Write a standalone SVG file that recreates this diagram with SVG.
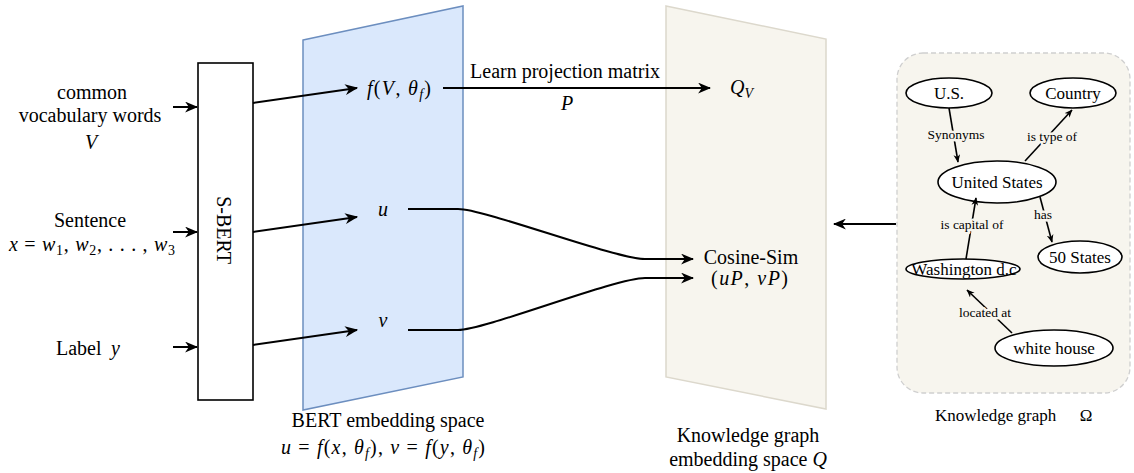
<svg xmlns="http://www.w3.org/2000/svg" width="1134" height="473" viewBox="0 0 1134 473" font-family="'Liberation Serif', 'DejaVu Serif', serif">
  <defs>
    <marker id="arrow" viewBox="0 0 12 10" refX="11" refY="5" markerWidth="13" markerHeight="11" markerUnits="userSpaceOnUse" orient="auto">
      <path d="M0,0 L12,5 L0,10 L3.5,5 Z" fill="#000"/>
    </marker>
    <marker id="arrow-sm" viewBox="0 0 12 10" refX="11" refY="5" markerWidth="8" markerHeight="7" markerUnits="userSpaceOnUse" orient="auto">
      <path d="M0,0 L12,5 L0,10 L3.5,5 Z" fill="#000"/>
    </marker>
  </defs>
  <style>
    text { font-family: 'Liberation Serif', 'DejaVu Serif', serif; fill: #000; }
    .t { font-size: 20px; }
    .m { font-size: 20px; }
    .i { font-style: italic; }
    .sub { font-size: 14px; font-style: italic; }
    .subn { font-size: 14px; }
    .node { font-size: 17px; }
    .lbl { font-size: 13.5px; stroke: #f7f5ee; stroke-width: 5px; paint-order: stroke; stroke-linejoin: round; }
    .edge { fill: none; stroke: #000; stroke-width: 2; }
    .gedge { fill: none; stroke: #000; stroke-width: 1.6; }
    .ell { fill: #fff; stroke: #000; stroke-width: 1.6; }
  </style>

  <!-- embedding planes -->
  <g id="bert-space">
    <polygon points="303,40 463,6 463,377 303,410" fill="#dae8fc" stroke="#6c8ebf" stroke-width="1.5"/>
    <text class="t" x="388" y="427" text-anchor="middle">BERT embedding space</text>
    <text class="m" x="281" y="454" textLength="204" lengthAdjust="spacing"><tspan class="i">u</tspan> = <tspan class="i">f</tspan>(<tspan class="i">x</tspan>, <tspan class="i">θ</tspan><tspan class="sub" dy="4">f</tspan><tspan dy="-4">), </tspan><tspan class="i">v</tspan> = <tspan class="i">f</tspan>(<tspan class="i">y</tspan>, <tspan class="i">θ</tspan><tspan class="sub" dy="4">f</tspan><tspan dy="-4">)</tspan></text>
  </g>

  <g id="kg-space">
    <polygon points="666,6 826,39 826,409 666,377" fill="#f7f5ee" stroke="#dcd8cc" stroke-width="1.5"/>
    <text class="t" x="748" y="442" text-anchor="middle">Knowledge graph</text>
    <text class="t" x="748" y="466" text-anchor="middle">embedding space <tspan class="i">Q</tspan></text>
  </g>

  <!-- inputs -->
  <g id="input-vocab">
    <text class="t" x="92" y="99" text-anchor="middle">common</text>
    <text class="t" x="90" y="122" text-anchor="middle">vocabulary words</text>
    <text class="t i" x="91" y="149" text-anchor="middle">V</text>
  </g>
  <g id="input-sentence">
    <text class="t" x="90" y="227" text-anchor="middle">Sentence</text>
    <text class="m" x="9" y="251" textLength="166" lengthAdjust="spacing"><tspan class="i">x</tspan> = <tspan class="i">w</tspan><tspan class="subn" dy="4">1</tspan><tspan dy="-4">, </tspan><tspan class="i">w</tspan><tspan class="subn" dy="4">2</tspan><tspan dy="-4">, . . . , </tspan><tspan class="i">w</tspan><tspan class="subn" dy="4">3</tspan></text>
  </g>
  <g id="input-label">
    <text class="t" x="56" y="355">Label</text>
    <text class="t i" x="111" y="355">y</text>
  </g>

  <!-- encoder -->
  <g id="sbert">
    <rect x="198" y="63" width="55" height="337" fill="#fff" stroke="#000" stroke-width="1.6"/>
    <text class="t" transform="translate(217,230) rotate(90)" text-anchor="middle">S-BERT</text>
  </g>

  <!-- embedded vectors -->
  <g id="f-V">
    <text class="m" x="367" y="95" textLength="64" lengthAdjust="spacing"><tspan class="i">f</tspan>(<tspan class="i">V</tspan>, <tspan class="i">θ</tspan><tspan class="sub" dy="4">f</tspan><tspan dy="-4">)</tspan></text>
  </g>
  <g id="vec-u">
    <text class="m i" x="383" y="216" text-anchor="middle">u</text>
  </g>
  <g id="vec-v">
    <text class="m i" x="383" y="327" text-anchor="middle">v</text>
  </g>
  <g id="q-v">
    <text class="m" x="730" y="94"><tspan class="i">Q</tspan><tspan class="sub" dy="4">V</tspan></text>
  </g>
  <g id="cosine-sim">
    <text class="t" x="751" y="264" text-anchor="middle">Cosine-Sim</text>
    <text class="m" x="711" y="285" textLength="77" lengthAdjust="spacing">(<tspan class="i">uP</tspan>, <tspan class="i">vP</tspan>)</text>
  </g>

  <!-- knowledge graph -->
  <g id="knowledge-graph">
    <rect x="897" y="53" width="233" height="340" rx="26" ry="26" fill="#f7f5ee" stroke="#cfcfcf" stroke-width="1.3" stroke-dasharray="5,3"/>
    <text x="935" y="421" style="font-size:17px">Knowledge graph</text>
    <text x="1086" y="421" style="font-size:17px" text-anchor="middle">Ω</text>
  </g>
  <g id="kg-us">
    <ellipse class="ell" cx="949" cy="93" rx="43" ry="15"/>
    <text class="node" x="949" y="99" text-anchor="middle">U.S.</text>
  </g>
  <g id="kg-country">
    <ellipse class="ell" cx="1073" cy="93" rx="43" ry="15"/>
    <text class="node" x="1073" y="99" text-anchor="middle">Country</text>
  </g>
  <g id="kg-united-states">
    <ellipse class="ell" cx="997" cy="182" rx="59" ry="21"/>
    <text class="node" x="997" y="188" text-anchor="middle">United States</text>
  </g>
  <g id="kg-50-states">
    <ellipse class="ell" cx="1080" cy="257" rx="42" ry="16"/>
    <text class="node" x="1080" y="263" text-anchor="middle">50 States</text>
  </g>
  <g id="kg-washington">
    <ellipse class="ell" cx="963" cy="269" rx="57" ry="10"/>
    <text class="node" x="964" y="275" text-anchor="middle">Washington d.c</text>
  </g>
  <g id="kg-white-house">
    <ellipse class="ell" cx="1054" cy="348" rx="59" ry="18"/>
    <text class="node" x="1054" y="354" text-anchor="middle">white house</text>
  </g>

  <!-- connectors -->
  <g id="connectors">
    <line class="edge" x1="173" y1="107" x2="197" y2="107" marker-end="url(#arrow)"/>
    <line class="edge" x1="173" y1="232" x2="197" y2="232" marker-end="url(#arrow)"/>
    <line class="edge" x1="173" y1="347" x2="197" y2="347" marker-end="url(#arrow)"/>

    <line class="edge" x1="253" y1="103" x2="357" y2="88" marker-end="url(#arrow)"/>
    <line class="edge" x1="253" y1="232" x2="357" y2="217" marker-end="url(#arrow)"/>
    <line class="edge" x1="253" y1="345" x2="357" y2="330" marker-end="url(#arrow)"/>

    <line class="edge" x1="443" y1="88" x2="710" y2="88" marker-end="url(#arrow)"/>
    <text class="t" x="565" y="78" text-anchor="middle">Learn projection matrix</text>
    <text class="m i" x="567" y="110" text-anchor="middle">P</text>

    <path class="edge" d="M408,209 L458,209 C485,209 615,259 645,259 L693,259" marker-end="url(#arrow)"/>
    <path class="edge" d="M408,330 L458,330 C485,330 615,278 645,278 L693,278" marker-end="url(#arrow)"/>

    <line class="edge" x1="896" y1="224" x2="834" y2="224" marker-end="url(#arrow)"/>

    <line class="gedge" x1="949" y1="108" x2="958" y2="162" marker-end="url(#arrow-sm)"/>
    <text class="lbl" x="956" y="139" text-anchor="middle">Synonyms</text>
    <line class="gedge" x1="1025" y1="161" x2="1072" y2="110" marker-end="url(#arrow-sm)"/>
    <text class="lbl" x="1052" y="141" text-anchor="middle">is type of</text>
    <line class="gedge" x1="1040" y1="197" x2="1052" y2="242" marker-end="url(#arrow-sm)"/>
    <text class="lbl" x="1043" y="219" text-anchor="middle">has</text>
    <line class="gedge" x1="966" y1="259" x2="976" y2="198" marker-end="url(#arrow-sm)"/>
    <text class="lbl" x="972" y="229" text-anchor="middle">is capital of</text>
    <line class="gedge" x1="1012" y1="333" x2="967" y2="290" marker-end="url(#arrow-sm)"/>
    <text class="lbl" x="985" y="317" text-anchor="middle">located at</text>
  </g>
</svg>
